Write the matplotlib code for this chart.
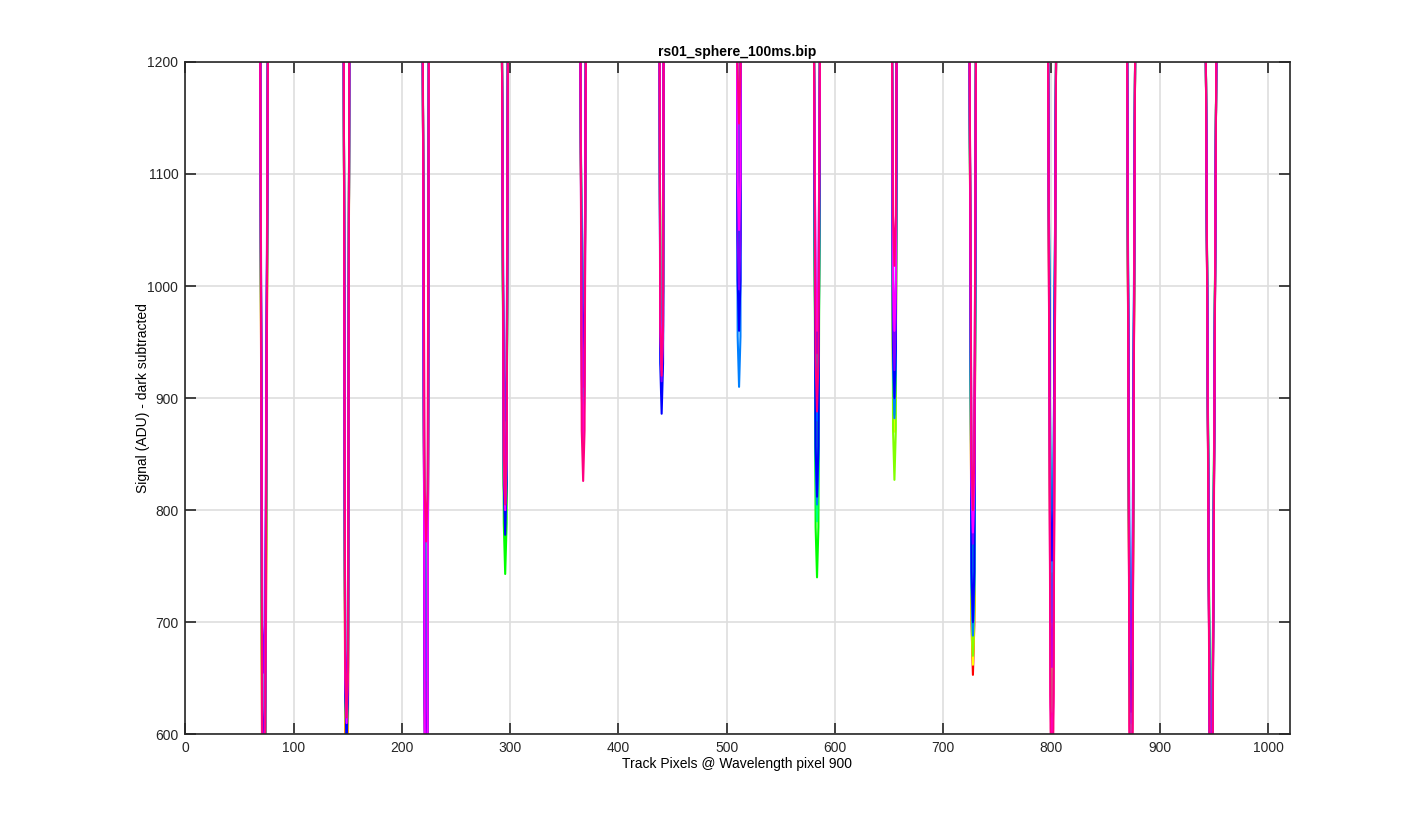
import matplotlib
matplotlib.use("Agg")
import matplotlib.pyplot as plt
from matplotlib.colors import hsv_to_rgb

plt.rcParams['font.family'] = ['Liberation Sans', 'DejaVu Sans']

# Track gaps (dips): left edge at top, minimum position, right edge at top (track pixel units)
dip_left = [69.3, 146.4, 219.4, 292.5, 365.0, 438.1, 509.6, 580.7, 652.8, 724.4, 796.9, 869.9, 942.6]
dip_mid = [72.5, 149.0, 222.5, 295.5, 367.5, 440.0, 511.5, 583.5, 655.0, 727.5, 800.5, 873.5, 947.5]
dip_right = [76.3, 151.5, 225.0, 298.0, 370.0, 441.8, 512.9, 586.2, 657.0, 730.3, 804.3, 877.3, 952.3]

# Minimum signal in each gap for each wavelength series (red -> rose)
s01 = [420, 560, 560, 800, 900, 950, 1010, 830, 880, 653, 590, 560, 540]
s02 = [450, 570, 570, 790, 910, 960, 1020, 820, 875, 668, 650, 570, 550]
s03 = [470, 575, 580, 777, 920, 955, 1030, 810, 870, 662, 640, 580, 560]
s04 = [480, 590, 590, 780, 915, 950, 1040, 800, 827, 670, 620, 575, 570]
s05 = [500, 618, 600, 743, 905, 945, 1005, 740, 885, 735, 735, 590, 580]
s06 = [520, 612, 610, 790, 930, 940, 1020, 790, 900, 700, 700, 600, 575]
s07 = [540, 625, 648, 795, 932, 930, 1000, 880, 955, 690, 745, 679, 560]
s08 = [560, 610, 560, 880, 875, 908, 910, 805, 882, 688, 700, 610, 550]
s09 = [580, 590, 580, 778, 940, 886, 960, 812, 900, 700, 755, 620, 540]
s10 = [655, 630, 540, 830, 910, 915, 997, 940, 925, 770, 660, 667, 560]
s11 = [560, 610, 560, 800, 860, 925, 1050, 960, 960, 780, 580, 560, 540]
s12 = [520, 615, 772, 805, 826, 920, 1145, 888, 1018, 800, 560, 540, 520]
series = [s01, s02, s03, s04, s05, s06, s07, s08, s09, s10, s11, s12]

xticks = [0, 100, 200, 300, 400, 500, 600, 700, 800, 900, 1000]
yticks = [600, 700, 800, 900, 1000, 1100, 1200]

# drawing shape of a gap (style only)
TOP = 1210
KNEE_DY = 45
KNEE_DX = 1.3

fig = plt.figure(figsize=(14.25, 8.25), dpi=100)
ax = fig.add_axes([0.13, 0.11, 0.775, 0.815])

n = len(series)
for i, mins in enumerate(series):
    color = hsv_to_rgb((i / n, 1.0, 1.0))
    xs, ys = [0.0], [TOP]
    for L, M, R, y in zip(dip_left, dip_mid, dip_right, mins):
        xs += [L, M - KNEE_DX, M, M + KNEE_DX, R]
        ys += [TOP, y + KNEE_DY, y, y + KNEE_DY, TOP]
    xs.append(1020.0)
    ys.append(TOP)
    ax.plot(xs, ys, color=color, lw=1.5)

ax.set_xlim(0, 1020)
ax.set_ylim(600, 1200)
ax.set_xticks(xticks)
ax.set_yticks(yticks)
ax.grid(True, color='#dedede', lw=1.2)
ax.set_axisbelow(True)
ax.tick_params(direction='in', length=8, width=1.2, top=True, right=True,
               labelsize=10, colors='#262626', pad=5)
for s in ax.spines.values():
    s.set_color('#262626')
    s.set_linewidth(1.2)
ax.set_title('rs01_sphere_100ms.bip', fontsize=10, fontweight='bold', pad=4)
ax.set_xlabel('Track Pixels @ Wavelength pixel 900', fontsize=10, labelpad=1)
ax.set_ylabel('Signal (ADU) - dark subtracted', fontsize=10, labelpad=-2)

fig.savefig('out.png', dpi=100)
